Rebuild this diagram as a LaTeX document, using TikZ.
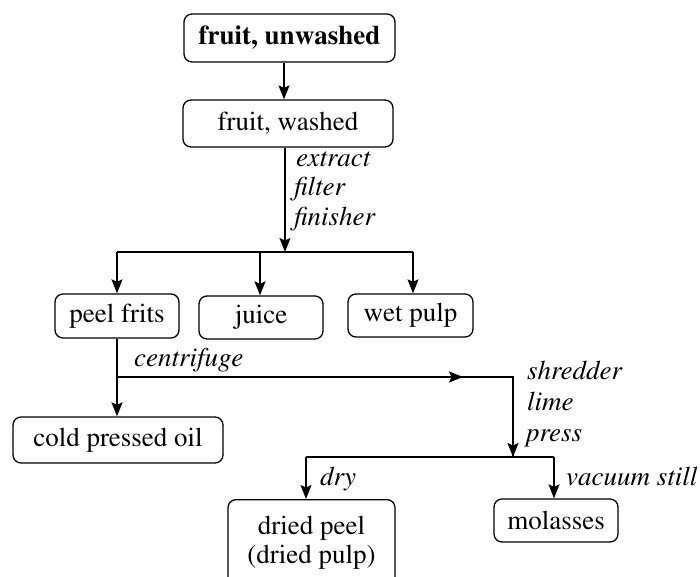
\documentclass[tikz,border=0pt]{standalone}
\usepackage[T1]{fontenc}
\usepackage{mathptmx}
\usetikzlibrary{arrows.meta}
\begin{document}
\begin{tikzpicture}[x=1pt,y=-1pt,
  box/.style={draw, line width=1.3pt, rounded corners=8pt, inner sep=0pt,
    font=\fontsize{27}{29}\selectfont},
  lbl/.style={anchor=base west, inner sep=0pt, font=\fontsize{27}{29}\selectfont\itshape},
  flow/.style={line width=1.4pt},
  arr/.style={flow, -{Stealth[length=14pt,width=11pt,inset=2.5pt]}}]
\useasboundingbox (0,0) rectangle (700,577);
\clip (0,0) rectangle (700,577);

% products and intermediates
\node[box, minimum width=211pt, minimum height=48pt,
  font=\fontsize{27}{29}\selectfont\bfseries] (unw) at (289.5,38) {fruit, unwashed};
\node[box, minimum width=210pt, minimum height=47pt] (wsh) at (288,123.5) {fruit, washed};
\node[box, minimum width=124pt, minimum height=44pt] (peel) at (117,316) {peel frits};
\node[box, minimum width=124pt, minimum height=43pt] (juice) at (261,317.5) {juice};
\node[box, minimum width=125pt, minimum height=43pt] (wet) at (410.5,315.5) {wet pulp};
\node[box, minimum width=210pt, minimum height=46pt] (oil) at (118,440) {cold pressed oil};
\node[box, minimum width=124pt, minimum height=43pt] (mol) at (556,520.5) {molasses};
\node[box, anchor=north, minimum width=167pt, inner ysep=17pt, text depth=62pt,
  align=center] (dried) at (311.5,499) {dried peel\\(dried pulp)};

% junction points
\coordinate (s1) at (285,252);
\coordinate (s1l) at (117,252);
\coordinate (s1m) at (260,252);
\coordinate (s1r) at (413,252);
\coordinate (c0) at (117,377);
\coordinate (cm) at (463,377);
\coordinate (c1) at (513,377);
\coordinate (s2) at (513,457);
\coordinate (s2l) at (306,457);
\coordinate (s2r) at (554,457);

% connectors
\draw[arr] (unw.south -| 284,0) -- (wsh.north -| 284,0);
\draw[arr] (wsh.south -| s1) -- (s1);
\draw[flow] (s1l) -- (s1r);
\draw[arr] (s1l) -- (s1l |- peel.north);
\draw[arr] (s1m) -- (s1m |- juice.north);
\draw[arr] (s1r) -- (s1r |- wet.north);
\draw[arr] (peel.south -| c0) -- (c0 |- oil.north);
\draw[flow] (c0) -- (c1) -- (s2);
\draw[arr] (c0) -- (cm);
\draw[arr] (c1) -- (s2);
\draw[flow] (s2l) -- (s2r);
\draw[arr] (s2l) -- (s2l |- dried.north);
\draw[arr] (s2r) -- (s2r |- mol.north);

% process step labels
\node[lbl] (l1) at (296,167) {extract};
\node[lbl] (l2) at (294,196) {filter};
\node[lbl] (l3) at (294,225) {finisher};
\node[lbl] (l4) at (134,366) {centrifuge};
\node[lbl] (l5) at (527,379) {shredder};
\node[lbl] (l6) at (527,410) {lime};
\node[lbl] (l7) at (526,441) {press};
\node[lbl] (l8) at (320,485) {dry};
\node[lbl] (l9) at (566,485) {vacuum still};
\end{tikzpicture}
\end{document}
